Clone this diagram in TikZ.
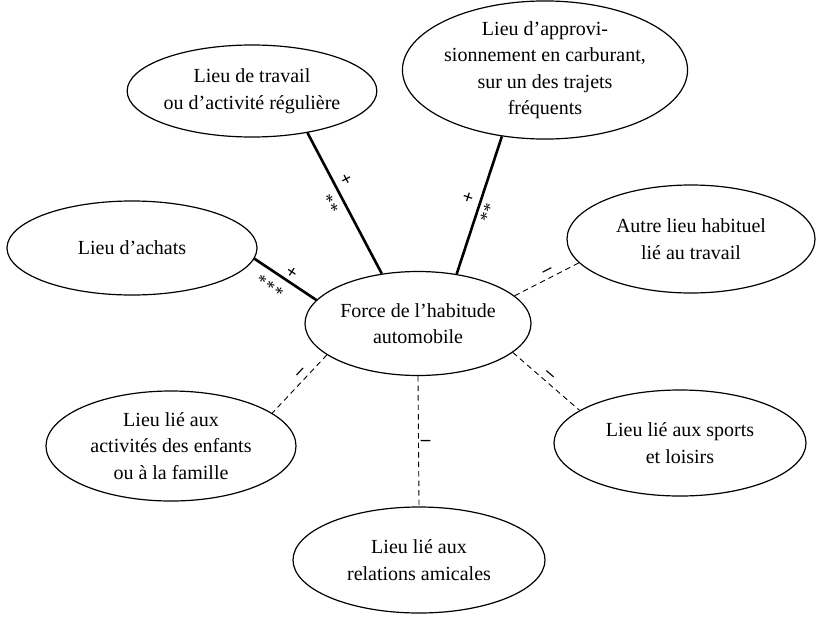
\documentclass[tikz,border=0pt]{standalone}
\usepackage{fontspec}
\setmainfont{Liberation Serif}
\usetikzlibrary{shapes.geometric}
\begin{document}
\begin{tikzpicture}[x=1pt,y=-1pt,
  ell/.style={draw, ellipse, line width=1.2pt, inner sep=0pt, align=center,
    font=\fontsize{20}{26.5}\selectfont},
  strong/.style={line width=2.6pt},
  weak/.style={line width=0.9pt, dash pattern=on 5.5pt off 4pt},
  mk/.style={font=\fontsize{19}{19}\selectfont\bfseries, inner sep=1pt},
  ms/.style={font=\fontsize{18}{18}\selectfont, inner sep=1pt},
  mn/.style={font=\fontsize{19}{19}\selectfont\bfseries, inner sep=1pt},
]
\useasboundingbox (0,0) rectangle (816,616);

\node[ell, minimum width=226pt, minimum height=104pt] (force) at (418,323.5) {Force de l’habitude\\automobile};
\node[ell, minimum width=248pt, minimum height=92pt] (work) at (252,91) {Lieu de travail\\ou d’activité régulière};
\node[ell, minimum width=266pt, minimum height=136pt] (fuel) at (545,70) {Lieu d’approvi-\\sionnement en carburant,\\sur un des trajets\\fréquents};
\node[ell, minimum width=250pt, minimum height=94pt] (achats) at (132,248) {Lieu d’achats};
\node[ell, minimum width=248pt, minimum height=108pt] (autre) at (691,239) {Autre lieu habituel\\lié au travail};
\node[ell, minimum width=250pt, minimum height=110pt] (enfants) at (171,446) {Lieu lié aux\\activités des enfants\\ou à la famille};
\node[ell, minimum width=252pt, minimum height=106pt] (sports) at (680,443) {Lieu lié aux sports\\et loisirs};
\node[ell, minimum width=252pt, minimum height=106pt] (amis) at (419,560) {Lieu lié aux\\relations amicales};

\draw[strong] (work.-37) -- (force.126)
  node[mk, pos=0.37, sloped, above=4pt] (wp) {+}
  node[ms, pos=0.46, sloped, below=5.5pt] (ws) {*\kern1pt*};
\draw[strong] (fuel.237) -- (force.52)
  node[mk, pos=0.47, sloped, above=4.5pt] (fp) {+}
  node[ms, pos=0.53, sloped, below=2.5pt] (fs) {*\kern1pt*};
\draw[strong] (achats.-5) -- (force.167)
  node[mk, pos=0.52, sloped, above=1pt] (ap) {+}
  node[ms, pos=0.38, sloped, below=7pt] (as) {*\kern1pt*\kern1pt*};

\draw[weak] (force.16) -- (autre.192)
  node[mn, pos=0.56, sloped, above=2pt] (am) {–};
\draw[weak] (force.-17) -- (sports.162)
  node[mn, pos=0.48, sloped, above=2pt] (sm) {–};
\draw[weak] (force.199) -- (enfants.18)
  node[mn, pos=0.39, sloped, above=2pt] (em) {–};
\draw[weak] (force.south) -- (amis.north)
  node[mn, pos=0.51, right=1pt] (rm) {–};
\end{tikzpicture}
\end{document}
